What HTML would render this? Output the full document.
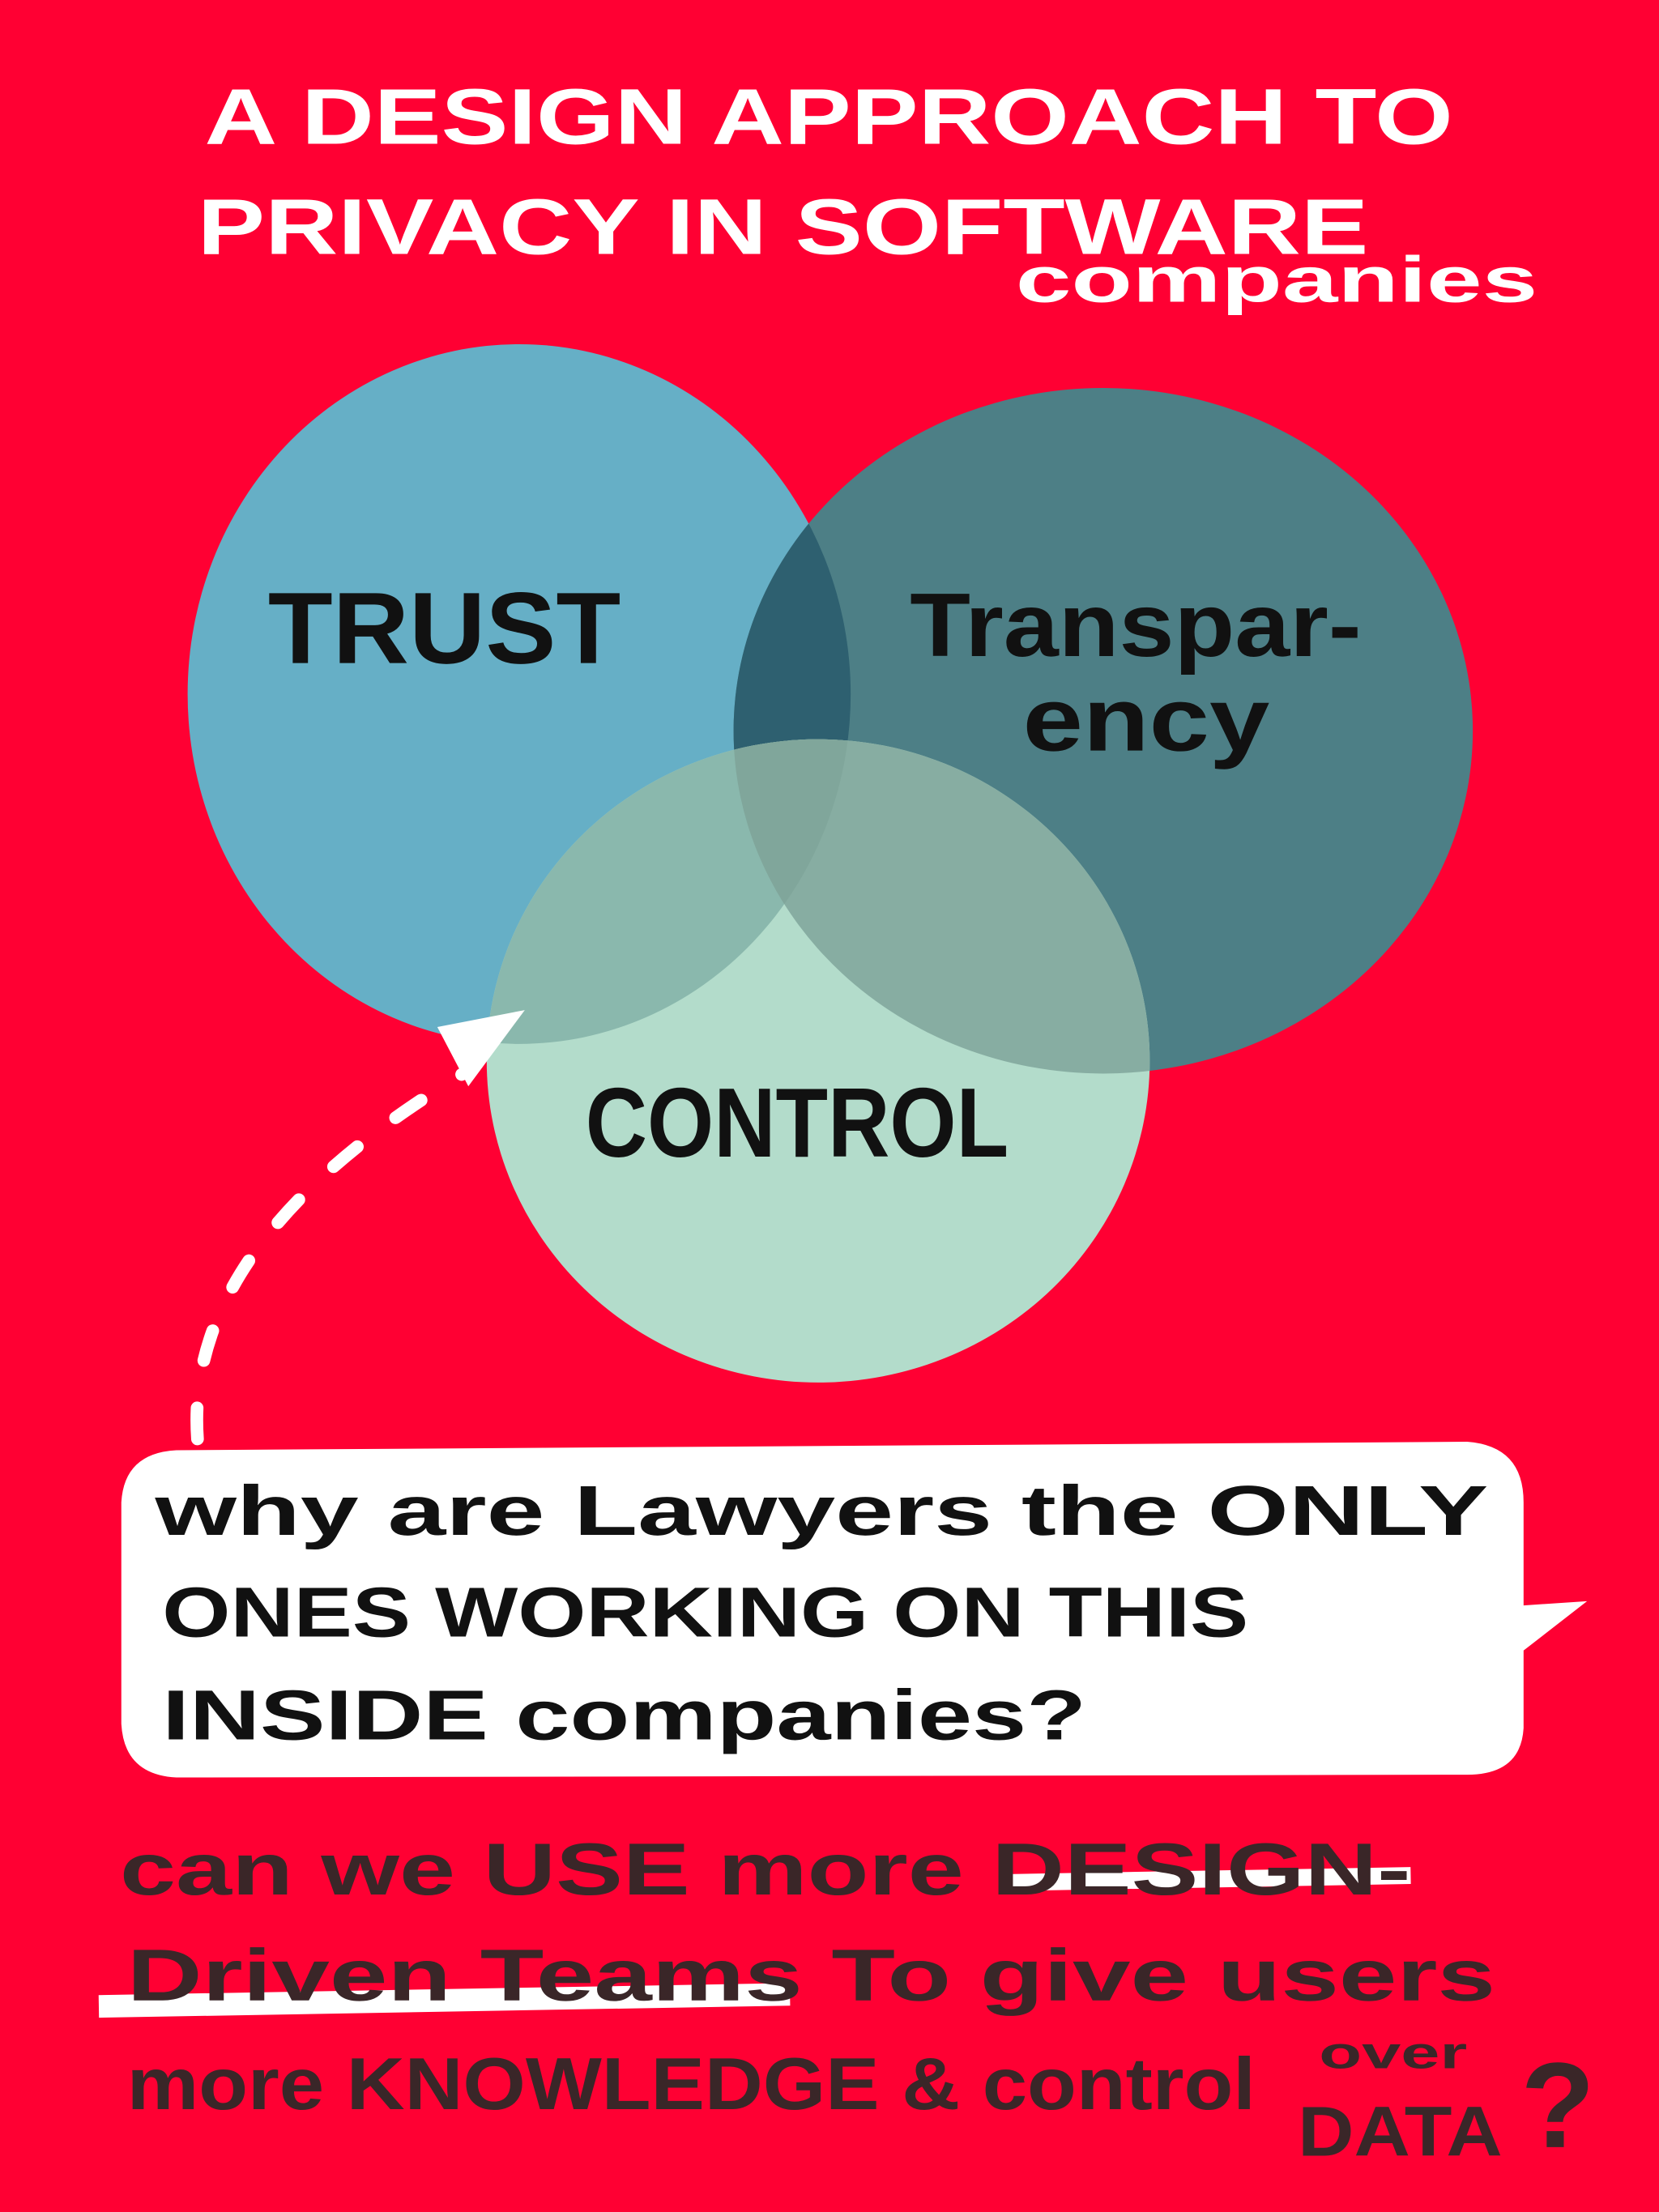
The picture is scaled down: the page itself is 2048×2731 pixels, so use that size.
<!DOCTYPE html>
<html><head><meta charset="utf-8"><style>
html,body{margin:0;padding:0;background:#ff0033;}
svg{display:block;}
text{font-family:"Liberation Sans",sans-serif;}
</style></head><body>
<svg width="2048" height="2731" viewBox="0 0 1176 1568" preserveAspectRatio="none" xmlns="http://www.w3.org/2000/svg">
<defs>
<clipPath id="ct"><ellipse cx="368" cy="492" rx="235" ry="248"/></clipPath>
<clipPath id="cp"><ellipse cx="782" cy="518" rx="262" ry="243"/></clipPath>
<clipPath id="cc"><ellipse cx="580" cy="752" rx="235" ry="228"/></clipPath>
</defs>
<rect width="1176" height="1568" fill="#ff0033"/>
<g fill="#fff" font-weight="bold">
<text x="145" y="102" font-size="56" textLength="885" lengthAdjust="spacingAndGlyphs">A DESIGN APPROACH TO</text>
<text x="140" y="180" font-size="56" textLength="830" lengthAdjust="spacingAndGlyphs">PRIVACY IN SOFTWARE</text>
<text x="720" y="214" font-size="46" textLength="370" lengthAdjust="spacingAndGlyphs">companies</text>
</g>
<ellipse cx="368" cy="492" rx="235" ry="248" fill="#66afc6"/>
<ellipse cx="782" cy="518" rx="262" ry="243" fill="#4d7f86"/>
<ellipse cx="782" cy="518" rx="262" ry="243" fill="#2e6070" clip-path="url(#ct)"/>
<ellipse cx="580" cy="752" rx="235" ry="228" fill="#b3dccb"/>
<g clip-path="url(#cc)">
<ellipse cx="368" cy="492" rx="235" ry="248" fill="#8ab8ad"/>
<ellipse cx="782" cy="518" rx="262" ry="243" fill="#87ada2"/>
<ellipse cx="782" cy="518" rx="262" ry="243" fill="#80a69b" clip-path="url(#ct)"/>
</g>
<g fill="#111" font-weight="bold">
<text x="190" y="470" font-size="72" textLength="250" lengthAdjust="spacingAndGlyphs">TRUST</text>
<text x="645" y="465" font-size="64" textLength="320" lengthAdjust="spacingAndGlyphs">Transpar-</text>
<text x="725" y="532" font-size="64" textLength="175" lengthAdjust="spacingAndGlyphs">ency</text>
<text x="415" y="820" font-size="70" textLength="300" lengthAdjust="spacingAndGlyphs">CONTROL</text>
</g>
<path d="M140 1020 Q130 880 330 760" fill="none" stroke="#fff" stroke-width="9" stroke-linecap="round" stroke-dasharray="22 34"/>
<polygon points="310,728 372,716 332,770" fill="#fff"/>
<path d="M125 1028 L1040 1022 Q1080 1025 1080 1065 L1080 1138 L1125 1135 L1080 1170 L1080 1225 Q1078 1258 1040 1258 L125 1260 Q88 1258 86 1222 L86 1065 Q88 1030 125 1028 Z" fill="#fff"/>
<g fill="#111" font-weight="bold">
<text x="110" y="1088" font-size="50" textLength="945" lengthAdjust="spacingAndGlyphs">why are Lawyers the ONLY</text>
<text x="115" y="1160" font-size="50" textLength="770" lengthAdjust="spacingAndGlyphs">ONES WORKING ON THIS</text>
<text x="115" y="1233" font-size="50" textLength="655" lengthAdjust="spacingAndGlyphs">INSIDE companies?</text>
</g>
<rect x="715" y="1326" width="285" height="12" fill="#fff" transform="rotate(-1 857 1332)"/>
<rect x="70" y="1410" width="490" height="16" fill="#fff" transform="rotate(-1 315 1418)"/>
<g fill="#3a2628" font-weight="bold">
<text x="85" y="1343" font-size="52" textLength="915" lengthAdjust="spacingAndGlyphs">can we USE more DESIGN-</text>
<text x="90" y="1418" font-size="52" textLength="970" lengthAdjust="spacingAndGlyphs">Driven Teams To give users</text>
<text x="90" y="1495" font-size="52" textLength="800" lengthAdjust="spacingAndGlyphs">more KNOWLEDGE &amp; control</text>
<text x="935" y="1466" font-size="32" textLength="105" lengthAdjust="spacingAndGlyphs">over</text>
<text x="920" y="1528" font-size="50" textLength="145" lengthAdjust="spacingAndGlyphs">DATA</text>
<text x="1078" y="1522" font-size="86">?</text>
</g>
</svg>
</body></html>
